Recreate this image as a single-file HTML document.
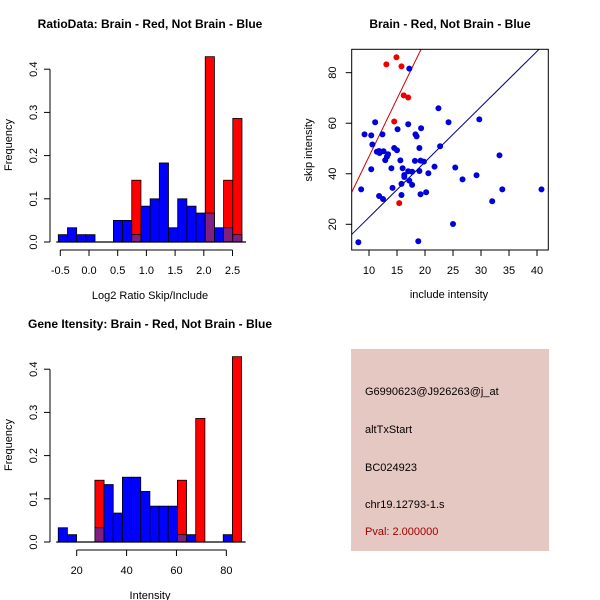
<!DOCTYPE html>
<html><head><meta charset="utf-8"><style>
body{margin:0;background:#fff}
svg{display:block;font-family:"Liberation Sans",sans-serif}
</style></head><body>
<svg id="c" width="600" height="600" xmlns="http://www.w3.org/2000/svg">
<rect x="351" y="349" width="198" height="202" fill="#e6c8c2"/>
<text x="365" y="395" font-size="11">G6990623@J926263@j_at</text>
<text x="365" y="433" font-size="11">altTxStart</text>
<text x="365" y="471" font-size="11">BC024923</text>
<text x="365" y="508" font-size="11">chr19.12793-1.s</text>
<text x="365" y="535" font-size="11" fill="#a00000">Pval: 2.000000</text>
</svg>
<script>
// ---- data ----
const ratioBlue=[0.017,0.033,0.017,0.017,0,0,0.05,0.05,0.017,0.083,0.1,0.183,0.033,0.1,0.083,0.067,0.067,0.033,0.033,0.017];
const ratioRed=[0,0,0,0,0,0,0,0,0.143,0,0,0,0,0,0,0,0.429,0,0.143,0.286];
const ratioBinStart=-0.535, ratioBinWidth=0.16;
const ratioXTicks=[-0.5,0,0.5,1,1.5,2,2.5];
const freqTicks=[0,0.1,0.2,0.3,0.4];
const intBlue=[0.033,0.017,0,0,0.033,0.133,0.067,0.15,0.15,0.117,0.083,0.083,0.083,0.017,0.017,0,0,0,0.017,0];
const intRed=[0,0,0,0,0.143,0,0,0,0,0,0,0,0,0.143,0,0.286,0,0,0,0.429];
const intBinStart=12.6, intBinWidth=3.675;
const intXTicks=[20,40,60,80];
const redX=[13.1,14.9,15.8,16.2,17.0,14.5,15.4];
const redY=[83.3,86.1,82.5,71.0,70.2,60.7,28.4];
const blueX=[17.2,8.1,8.6,9.2,10.4,10.6,10.4,11.1,11.4,11.8,11.9,12.4,12.6,12.9,12.5,11.8,13.4,13.2,14.0,14.2,14.5,15.1,15.0,15.6,15.8,15.8,16.0,16.3,16.3,17.0,17.0,17.2,17.7,17.7,18.3,18.5,19.0,19.3,18.2,19.2,19.0,19.2,19.8,20.2,20.6,21.7,18.8,22.4,22.7,24.2,25.4,25.0,26.7,29.2,29.7,32.0,33.3,33.8,40.8];
const blueY=[81.6,12.9,33.8,55.6,55.2,51.6,41.8,60.4,48.7,49.0,48.2,55.6,48.9,45.4,30.0,31.2,47.7,46.8,42.2,34.4,50.2,57.6,49.3,45.3,36.0,31.6,42.2,39.5,38.7,59.6,41.0,37.3,40.8,35.6,55.6,54.8,50.2,58.0,45.1,45.2,41.1,31.9,44.8,32.7,40.2,42.8,13.3,65.9,50.9,60.4,42.5,20.1,37.8,39.4,61.5,29.1,47.3,33.8,33.8];
const scXTicks=[10,15,20,25,30,35,40];
const scYTicks=[20,40,60,80];
const redFit=[4.57,1.1], blueFit=[2.19,0.85];

const svg=document.getElementById('c');
const NS='http://www.w3.org/2000/svg';
function el(tag,attrs,parent){const e=document.createElementNS(NS,tag);for(const k in attrs)e.setAttribute(k,attrs[k]);(parent||svg).appendChild(e);return e;}
function txt(s,attrs,parent){const e=el('text',attrs,parent);e.textContent=s;return e;}

function hist(o){
  const g=el('g',{});
  
  
  const X=v=>o.x0+(v-o.xv0)*o.xs, Y=v=>o.y0-v*o.ys;
  const n=o.blue.length;
  for(let i=0;i<n;i++){
    const l=X(o.start+i*o.w), r=X(o.start+(i+1)*o.w);
    const b=o.blue[i], rd=o.red[i];
    const hi=Math.max(b,rd), lo=Math.min(b,rd);
    if(hi<=0)continue;
    const top=el('rect',{x:l,y:Y(hi),width:r-l,height:Y(0)-Y(hi),fill:b>=rd?'#0000ff':'#ff0000',stroke:'#000','stroke-width':0.8},g);
    
    
    if(lo>0){
      const ov=el('rect',{x:l,y:Y(lo),width:r-l,height:Y(0)-Y(lo),fill:'#7f1f80',stroke:'#000','stroke-width':0.8},g);
      
      
    }
  }
  el('line',{x1:X(o.start)-2,x2:X(o.start+n*o.w)+4,y1:o.y0,y2:o.y0,stroke:'#000','stroke-width':1.3},g);
  const ya=el('g',{},g);
  
  
  el('line',{x1:50,x2:50,y1:Y(0),y2:Y(0.4),stroke:'#000'},ya);
  freqTicks.forEach(t=>{
    el('line',{x1:44,x2:50,y1:Y(t),y2:Y(t),stroke:'#000'},ya);
    txt(t.toFixed(1),{x:37,y:Y(t),'font-size':11,'text-anchor':'middle',transform:`rotate(-90 37 ${Y(t)})`},ya);
  });
  const yl=txt('Frequency',{x:12,y:o.y0-97,'font-size':11,'text-anchor':'middle',transform:`rotate(-90 12 ${o.y0-97})`},g);
  
  
  const xa=el('g',{},g);
  
  
  const ay=o.y0+8;
  el('line',{x1:X(o.ticks[0]),x2:X(o.ticks[o.ticks.length-1]),y1:ay,y2:ay,stroke:'#000'},xa);
  o.ticks.forEach(t=>{
    el('line',{x1:X(t),x2:X(t),y1:ay,y2:ay+6,stroke:'#000'},xa);
    txt(o.fmt(t),{x:X(t),y:ay+24,'font-size':11,'text-anchor':'middle'},xa);
  });
  const xl=txt(o.xlabel,{x:150,y:o.y0+57,'font-size':11,'text-anchor':'middle'},g);
  
  
  const tt=txt(o.title,{x:150,y:o.y0-214,'font-size':12,'font-weight':'bold','text-anchor':'middle'},g);
  
  
}
hist({name:'ratio-histogram',blue:ratioBlue,red:ratioRed,start:ratioBinStart,w:ratioBinWidth,x0:60.3,xv0:-0.5,xs:57.4,y0:242,ys:432,ticks:ratioXTicks,fmt:t=>t.toFixed(1),xlabel:'Log2 Ratio Skip/Include',title:'RatioData: Brain - Red, Not Brain - Blue'});
hist({name:'intensity-histogram',blue:intBlue,red:intRed,start:intBinStart,w:intBinWidth,x0:76.7,xv0:20,xs:2.494,y0:542,ys:432,ticks:intXTicks,fmt:t=>String(t),xlabel:'Intensity',title:'Gene Itensity: Brain - Red, Not Brain - Blue'});

const sg=el('g',{});


const L=351.7,R=548.3,T=49.3,B=250;
const SX=v=>369+(v-10)*5.6, SY=v=>224.3-(v-20)*2.527;
const cp=el('clipPath',{id:'cp'},sg);
el('rect',{x:L,y:T,width:R-L,height:B-T},cp);
[[redFit,'#cc0000','red-fit-line'],[blueFit,'#00008b','blue-fit-line']].forEach(([f,c,n])=>{
  const xa=(L-369)/5.6+10, xb=(R-369)/5.6+10;
  const ln=el('line',{x1:SX(xa),y1:SY(f[0]*xa+f[1]),x2:SX(xb),y2:SY(f[0]*xb+f[1]),stroke:c,'stroke-width':1,'clip-path':'url(#cp)'},sg);
  
  
});
blueX.forEach((x,i)=>{
  const p=el('circle',{cx:SX(x),cy:SY(blueY[i]),r:3,fill:'#0000dd'},sg);
  
  
});
redX.forEach((x,i)=>{
  const p=el('circle',{cx:SX(x),cy:SY(redY[i]),r:3,fill:'#ee0000'},sg);
  
  
});
el('rect',{x:L,y:T,width:R-L,height:B-T,fill:'none',stroke:'#000'},sg);
scXTicks.forEach(t=>{
  el('line',{x1:SX(t),x2:SX(t),y1:B,y2:B+6,stroke:'#000'},sg);
  txt(String(t),{x:SX(t),y:B+24,'font-size':11,'text-anchor':'middle'},sg);
});
scYTicks.forEach(t=>{
  el('line',{x1:L-6,x2:L,y1:SY(t),y2:SY(t),stroke:'#000'},sg);
  txt(String(t),{x:336,y:SY(t),'font-size':11,'text-anchor':'middle',transform:`rotate(-90 336 ${SY(t)})`},sg);
});
const sxl=txt('include intensity',{x:449,y:298,'font-size':11,'text-anchor':'middle'},sg);


const syl=txt('skip intensity',{x:312,y:150,'font-size':11,'text-anchor':'middle',transform:'rotate(-90 312 150)'},sg);


const st=txt('Brain - Red, Not Brain - Blue',{x:450,y:28,'font-size':12,'font-weight':'bold','text-anchor':'middle'},sg);


</script>
</body></html>
